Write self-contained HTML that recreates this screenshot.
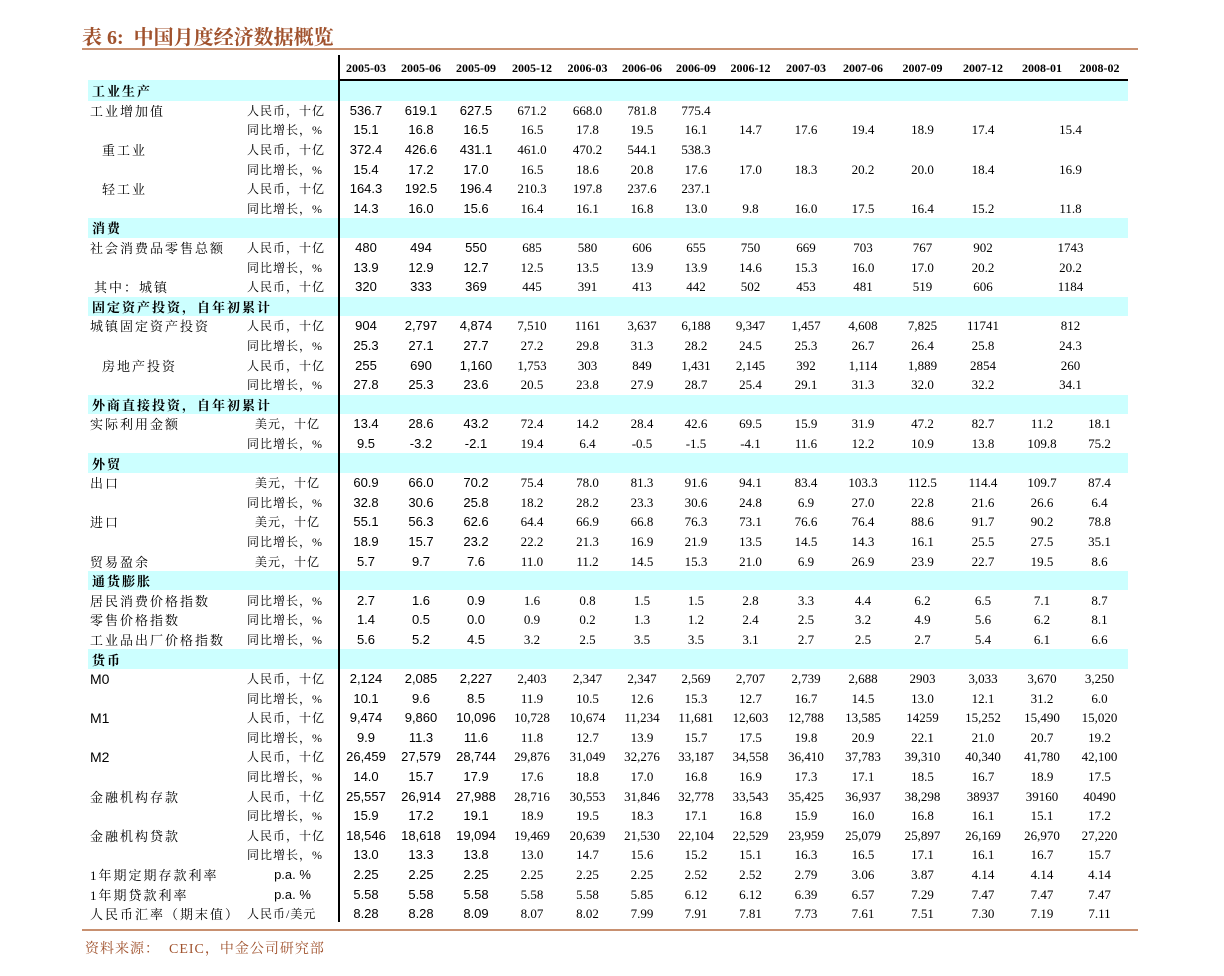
<!DOCTYPE html>
<html><head><meta charset="utf-8"><style>
body{margin:0;width:1224px;height:976px;background:#fff;position:relative;overflow:hidden}
.t{position:absolute;left:82px;top:21px;font:bold 20px "Liberation Serif","Noto Serif CJK SC",serif;color:#a0522d;letter-spacing:0px}
.l1{position:absolute;left:82px;top:48px;width:1056px;height:2px;background:#c89070}
.l2{position:absolute;left:82px;top:929px;width:1056px;height:2px;background:#c89070}
.src{position:absolute;left:85px;top:938px;font:14px "Liberation Serif","Noto Serif CJK SC",serif;color:#a0522d;letter-spacing:1px}
.vl{position:absolute;left:338px;top:55px;width:2px;height:867px;background:#000}
table{position:absolute;left:88px;top:58px;border-collapse:collapse;table-layout:fixed}
td{height:19.6px;padding:0;text-align:center;font:13px "Liberation Serif",serif;white-space:nowrap;color:#000;line-height:19px}
tr>td:nth-child(3),tr>td:nth-child(4),tr>td:nth-child(5){font:13px "Liberation Sans",sans-serif}
tr>td:nth-child(1){text-align:left;font:13px "Liberation Serif","Noto Serif CJK SC",serif;letter-spacing:2px;padding-left:2px}
tr>td:nth-child(2){text-align:left;font:12px "Liberation Serif","Noto Serif CJK SC",serif;letter-spacing:1px;padding-left:2px}
tr.h td{height:21px;font:bold 12px "Liberation Serif",serif !important;border-bottom:2px solid #000}
tr.h td:nth-child(1),tr.h td:nth-child(2){border-bottom:none}
tr.sec td{background:#ccffff;font:bold 13px "Liberation Serif","Noto Serif CJK SC",serif;text-align:left;letter-spacing:2px;padding-left:4px}
.i{padding-left:14px !important}
.m{font:14px "Liberation Sans",sans-serif !important;letter-spacing:0 !important}
.pa{font:13px "Liberation Sans",sans-serif !important;text-align:center !important;letter-spacing:0 !important}
</style></head><body>
<div class="t">表 6:&nbsp; 中国月度经济数据概览</div>
<div class="l1"></div>
<table>
<colgroup><col style="width:157px"><col style="width:93px"><col style="width:56px"><col style="width:54px"><col style="width:56px"><col style="width:56px"><col style="width:55px"><col style="width:54px"><col style="width:54px"><col style="width:55px"><col style="width:56px"><col style="width:58px"><col style="width:61px"><col style="width:60px"><col style="width:58px"><col style="width:57px"></colgroup>
<tr class="h"><td></td><td></td><td>2005-03</td><td>2005-06</td><td>2005-09</td><td>2005-12</td><td>2006-03</td><td>2006-06</td><td>2006-09</td><td>2006-12</td><td>2007-03</td><td>2007-06</td><td>2007-09</td><td>2007-12</td><td>2008-01</td><td>2008-02</td></tr>
<tr class="sec"><td colspan="16">工业生产</td></tr>
<tr><td>工业增加值</td><td>人民币，十亿</td><td>536.7</td><td>619.1</td><td>627.5</td><td>671.2</td><td>668.0</td><td>781.8</td><td>775.4</td><td></td><td></td><td></td><td></td><td></td><td></td><td></td></tr>
<tr><td></td><td>同比增长，%</td><td>15.1</td><td>16.8</td><td>16.5</td><td>16.5</td><td>17.8</td><td>19.5</td><td>16.1</td><td>14.7</td><td>17.6</td><td>19.4</td><td>18.9</td><td>17.4</td><td colspan="2">15.4</td></tr>
<tr><td class="i">重工业</td><td>人民币，十亿</td><td>372.4</td><td>426.6</td><td>431.1</td><td>461.0</td><td>470.2</td><td>544.1</td><td>538.3</td><td></td><td></td><td></td><td></td><td></td><td></td><td></td></tr>
<tr><td></td><td>同比增长，%</td><td>15.4</td><td>17.2</td><td>17.0</td><td>16.5</td><td>18.6</td><td>20.8</td><td>17.6</td><td>17.0</td><td>18.3</td><td>20.2</td><td>20.0</td><td>18.4</td><td colspan="2">16.9</td></tr>
<tr><td class="i">轻工业</td><td>人民币，十亿</td><td>164.3</td><td>192.5</td><td>196.4</td><td>210.3</td><td>197.8</td><td>237.6</td><td>237.1</td><td></td><td></td><td></td><td></td><td></td><td></td><td></td></tr>
<tr><td></td><td>同比增长，%</td><td>14.3</td><td>16.0</td><td>15.6</td><td>16.4</td><td>16.1</td><td>16.8</td><td>13.0</td><td>9.8</td><td>16.0</td><td>17.5</td><td>16.4</td><td>15.2</td><td colspan="2">11.8</td></tr>
<tr class="sec"><td colspan="16">消费</td></tr>
<tr><td>社会消费品零售总额</td><td>人民币，十亿</td><td>480</td><td>494</td><td>550</td><td>685</td><td>580</td><td>606</td><td>655</td><td>750</td><td>669</td><td>703</td><td>767</td><td>902</td><td colspan="2">1743</td></tr>
<tr><td></td><td>同比增长，%</td><td>13.9</td><td>12.9</td><td>12.7</td><td>12.5</td><td>13.5</td><td>13.9</td><td>13.9</td><td>14.6</td><td>15.3</td><td>16.0</td><td>17.0</td><td>20.2</td><td colspan="2">20.2</td></tr>
<tr><td style="padding-left:6px">其中：城镇</td><td>人民币，十亿</td><td>320</td><td>333</td><td>369</td><td>445</td><td>391</td><td>413</td><td>442</td><td>502</td><td>453</td><td>481</td><td>519</td><td>606</td><td colspan="2">1184</td></tr>
<tr class="sec"><td colspan="16">固定资产投资，自年初累计</td></tr>
<tr><td>城镇固定资产投资</td><td>人民币，十亿</td><td>904</td><td>2,797</td><td>4,874</td><td>7,510</td><td>1161</td><td>3,637</td><td>6,188</td><td>9,347</td><td>1,457</td><td>4,608</td><td>7,825</td><td>11741</td><td colspan="2">812</td></tr>
<tr><td></td><td>同比增长，%</td><td>25.3</td><td>27.1</td><td>27.7</td><td>27.2</td><td>29.8</td><td>31.3</td><td>28.2</td><td>24.5</td><td>25.3</td><td>26.7</td><td>26.4</td><td>25.8</td><td colspan="2">24.3</td></tr>
<tr><td class="i">房地产投资</td><td>人民币，十亿</td><td>255</td><td>690</td><td>1,160</td><td>1,753</td><td>303</td><td>849</td><td>1,431</td><td>2,145</td><td>392</td><td>1,114</td><td>1,889</td><td>2854</td><td colspan="2">260</td></tr>
<tr><td></td><td>同比增长，%</td><td>27.8</td><td>25.3</td><td>23.6</td><td>20.5</td><td>23.8</td><td>27.9</td><td>28.7</td><td>25.4</td><td>29.1</td><td>31.3</td><td>32.0</td><td>32.2</td><td colspan="2">34.1</td></tr>
<tr class="sec"><td colspan="16">外商直接投资，自年初累计</td></tr>
<tr><td>实际利用金额</td><td>&nbsp;&nbsp;美元，十亿</td><td>13.4</td><td>28.6</td><td>43.2</td><td>72.4</td><td>14.2</td><td>28.4</td><td>42.6</td><td>69.5</td><td>15.9</td><td>31.9</td><td>47.2</td><td>82.7</td><td>11.2</td><td>18.1</td></tr>
<tr><td></td><td>同比增长，%</td><td>9.5</td><td>-3.2</td><td>-2.1</td><td>19.4</td><td>6.4</td><td>-0.5</td><td>-1.5</td><td>-4.1</td><td>11.6</td><td>12.2</td><td>10.9</td><td>13.8</td><td>109.8</td><td>75.2</td></tr>
<tr class="sec"><td colspan="16">外贸</td></tr>
<tr><td>出口</td><td>&nbsp;&nbsp;美元，十亿</td><td>60.9</td><td>66.0</td><td>70.2</td><td>75.4</td><td>78.0</td><td>81.3</td><td>91.6</td><td>94.1</td><td>83.4</td><td>103.3</td><td>112.5</td><td>114.4</td><td>109.7</td><td>87.4</td></tr>
<tr><td></td><td>同比增长，%</td><td>32.8</td><td>30.6</td><td>25.8</td><td>18.2</td><td>28.2</td><td>23.3</td><td>30.6</td><td>24.8</td><td>6.9</td><td>27.0</td><td>22.8</td><td>21.6</td><td>26.6</td><td>6.4</td></tr>
<tr><td>进口</td><td>&nbsp;&nbsp;美元，十亿</td><td>55.1</td><td>56.3</td><td>62.6</td><td>64.4</td><td>66.9</td><td>66.8</td><td>76.3</td><td>73.1</td><td>76.6</td><td>76.4</td><td>88.6</td><td>91.7</td><td>90.2</td><td>78.8</td></tr>
<tr><td></td><td>同比增长，%</td><td>18.9</td><td>15.7</td><td>23.2</td><td>22.2</td><td>21.3</td><td>16.9</td><td>21.9</td><td>13.5</td><td>14.5</td><td>14.3</td><td>16.1</td><td>25.5</td><td>27.5</td><td>35.1</td></tr>
<tr><td>贸易盈余</td><td>&nbsp;&nbsp;美元，十亿</td><td>5.7</td><td>9.7</td><td>7.6</td><td>11.0</td><td>11.2</td><td>14.5</td><td>15.3</td><td>21.0</td><td>6.9</td><td>26.9</td><td>23.9</td><td>22.7</td><td>19.5</td><td>8.6</td></tr>
<tr class="sec"><td colspan="16">通货膨胀</td></tr>
<tr><td>居民消费价格指数</td><td>同比增长，%</td><td>2.7</td><td>1.6</td><td>0.9</td><td>1.6</td><td>0.8</td><td>1.5</td><td>1.5</td><td>2.8</td><td>3.3</td><td>4.4</td><td>6.2</td><td>6.5</td><td>7.1</td><td>8.7</td></tr>
<tr><td>零售价格指数</td><td>同比增长，%</td><td>1.4</td><td>0.5</td><td>0.0</td><td>0.9</td><td>0.2</td><td>1.3</td><td>1.2</td><td>2.4</td><td>2.5</td><td>3.2</td><td>4.9</td><td>5.6</td><td>6.2</td><td>8.1</td></tr>
<tr><td>工业品出厂价格指数</td><td>同比增长，%</td><td>5.6</td><td>5.2</td><td>4.5</td><td>3.2</td><td>2.5</td><td>3.5</td><td>3.5</td><td>3.1</td><td>2.7</td><td>2.5</td><td>2.7</td><td>5.4</td><td>6.1</td><td>6.6</td></tr>
<tr class="sec"><td colspan="16">货币</td></tr>
<tr><td class="m">M0</td><td>人民币，十亿</td><td>2,124</td><td>2,085</td><td>2,227</td><td>2,403</td><td>2,347</td><td>2,347</td><td>2,569</td><td>2,707</td><td>2,739</td><td>2,688</td><td>2903</td><td>3,033</td><td>3,670</td><td>3,250</td></tr>
<tr><td></td><td>同比增长，%</td><td>10.1</td><td>9.6</td><td>8.5</td><td>11.9</td><td>10.5</td><td>12.6</td><td>15.3</td><td>12.7</td><td>16.7</td><td>14.5</td><td>13.0</td><td>12.1</td><td>31.2</td><td>6.0</td></tr>
<tr><td class="m">M1</td><td>人民币，十亿</td><td>9,474</td><td>9,860</td><td>10,096</td><td>10,728</td><td>10,674</td><td>11,234</td><td>11,681</td><td>12,603</td><td>12,788</td><td>13,585</td><td>14259</td><td>15,252</td><td>15,490</td><td>15,020</td></tr>
<tr><td></td><td>同比增长，%</td><td>9.9</td><td>11.3</td><td>11.6</td><td>11.8</td><td>12.7</td><td>13.9</td><td>15.7</td><td>17.5</td><td>19.8</td><td>20.9</td><td>22.1</td><td>21.0</td><td>20.7</td><td>19.2</td></tr>
<tr><td class="m">M2</td><td>人民币，十亿</td><td>26,459</td><td>27,579</td><td>28,744</td><td>29,876</td><td>31,049</td><td>32,276</td><td>33,187</td><td>34,558</td><td>36,410</td><td>37,783</td><td>39,310</td><td>40,340</td><td>41,780</td><td>42,100</td></tr>
<tr><td></td><td>同比增长，%</td><td>14.0</td><td>15.7</td><td>17.9</td><td>17.6</td><td>18.8</td><td>17.0</td><td>16.8</td><td>16.9</td><td>17.3</td><td>17.1</td><td>18.5</td><td>16.7</td><td>18.9</td><td>17.5</td></tr>
<tr><td>金融机构存款</td><td>人民币，十亿</td><td>25,557</td><td>26,914</td><td>27,988</td><td>28,716</td><td>30,553</td><td>31,846</td><td>32,778</td><td>33,543</td><td>35,425</td><td>36,937</td><td>38,298</td><td>38937</td><td>39160</td><td>40490</td></tr>
<tr><td></td><td>同比增长，%</td><td>15.9</td><td>17.2</td><td>19.1</td><td>18.9</td><td>19.5</td><td>18.3</td><td>17.1</td><td>16.8</td><td>15.9</td><td>16.0</td><td>16.8</td><td>16.1</td><td>15.1</td><td>17.2</td></tr>
<tr><td>金融机构贷款</td><td>人民币，十亿</td><td>18,546</td><td>18,618</td><td>19,094</td><td>19,469</td><td>20,639</td><td>21,530</td><td>22,104</td><td>22,529</td><td>23,959</td><td>25,079</td><td>25,897</td><td>26,169</td><td>26,970</td><td>27,220</td></tr>
<tr><td></td><td>同比增长，%</td><td>13.0</td><td>13.3</td><td>13.8</td><td>13.0</td><td>14.7</td><td>15.6</td><td>15.2</td><td>15.1</td><td>16.3</td><td>16.5</td><td>17.1</td><td>16.1</td><td>16.7</td><td>15.7</td></tr>
<tr><td>1年期定期存款利率</td><td class="pa">p.a. %</td><td>2.25</td><td>2.25</td><td>2.25</td><td>2.25</td><td>2.25</td><td>2.25</td><td>2.52</td><td>2.52</td><td>2.79</td><td>3.06</td><td>3.87</td><td>4.14</td><td>4.14</td><td>4.14</td></tr>
<tr><td>1年期贷款利率</td><td class="pa">p.a. %</td><td>5.58</td><td>5.58</td><td>5.58</td><td>5.58</td><td>5.58</td><td>5.85</td><td>6.12</td><td>6.12</td><td>6.39</td><td>6.57</td><td>7.29</td><td>7.47</td><td>7.47</td><td>7.47</td></tr>
<tr><td>人民币汇率（期末值）</td><td>人民币/美元</td><td>8.28</td><td>8.28</td><td>8.09</td><td>8.07</td><td>8.02</td><td>7.99</td><td>7.91</td><td>7.81</td><td>7.73</td><td>7.61</td><td>7.51</td><td>7.30</td><td>7.19</td><td>7.11</td></tr>
</table>
<div class="vl"></div>
<div class="l2"></div>
<div class="src">资料来源：&nbsp; CEIC，中金公司研究部</div>
</body></html>
